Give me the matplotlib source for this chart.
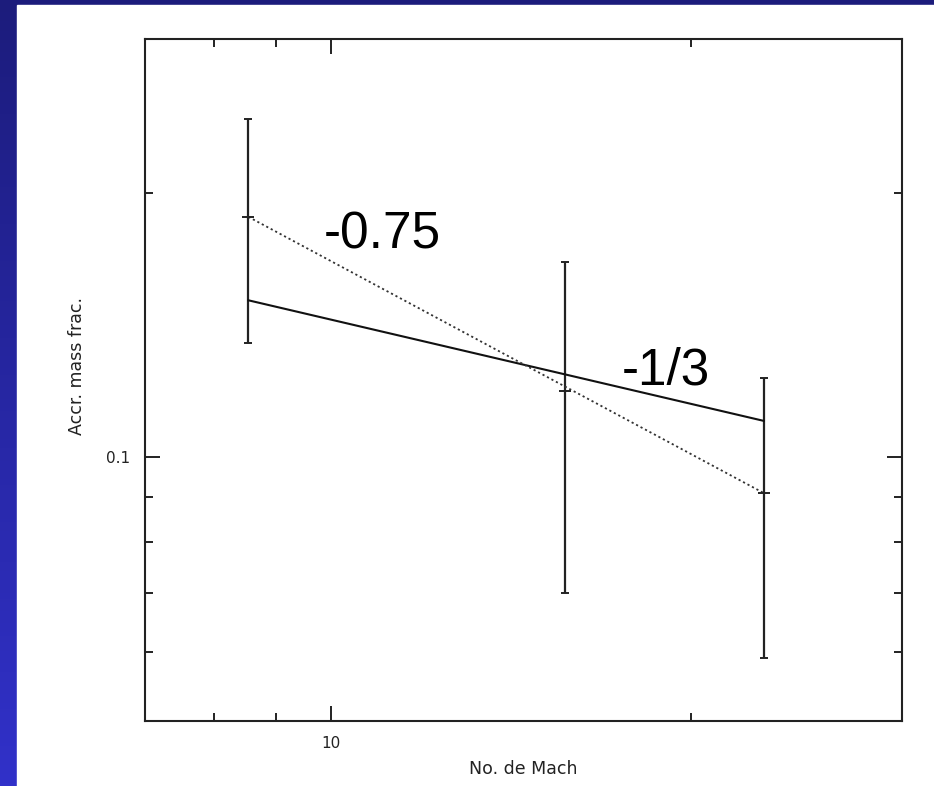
import numpy as np
import matplotlib
matplotlib.use("Agg")
import matplotlib.pyplot as plt
from matplotlib.colors import LinearSegmentedColormap
from matplotlib.patches import Rectangle
from matplotlib.ticker import NullFormatter, FixedLocator

# --- datos ---
mach = [8.54, 15.7, 23.0]
frac = [0.188, 0.119, 0.091]
frac_low = [0.135, 0.070, 0.059]
frac_high = [0.243, 0.167, 0.123]

# rectas de ajuste (extremos)
fit_x = [8.54, 23.0]
fit_075 = [0.188, 0.091]
fit_13 = [0.151, 0.110]

x_major = [10]
x_major_labels = ["10"]
x_minor = [8, 9, 20]
y_major = [0.1]
y_major_labels = ["0.1"]
y_minor = [0.06, 0.07, 0.08, 0.09, 0.2]

W, H = 934, 786
fig = plt.figure(figsize=(W / 100, H / 100), dpi=100)

# --- fondo: marco azul ---
bg = fig.add_axes([0, 0, 1, 1])
blues = LinearSegmentedColormap.from_list("marco", ["#3131c9", "#1c1c7c"])
grad = np.linspace(0, 1, 256).reshape(-1, 1)
bg.imshow(grad, cmap=blues, aspect="auto", extent=[0, 1, 0, 1], origin="lower")
bg.add_patch(Rectangle((17 / W, 0), 1, 1 - 5 / H, color="white", zorder=2))
bg.set_xlim(0, 1)
bg.set_ylim(0, 1)
bg.axis("off")

# --- grafica ---
left, right, top, bottom = 145, 902, 39, 721
ax = fig.add_axes([left / W, 1 - bottom / H, (right - left) / W, (bottom - top) / H])
ax.set_xscale("log")
ax.set_yscale("log")
ax.set_xlim(7, 30)
ax.set_ylim(0.05, 0.3)

frac_a = np.array(frac)
yerr = [frac_a - np.array(frac_low), np.array(frac_high) - frac_a]
ax.errorbar(mach, frac, yerr=yerr, fmt="_", color="#222222", ecolor="#222222",
            elinewidth=1.6, capsize=2.9, capthick=1.4, markersize=9, mew=1.4)
ax.plot(fit_x, fit_13, color="#111111", lw=1.5)
ax.plot(fit_x, fit_075, color="#333333", lw=1.3, ls=(0, (1.2, 1.6)))

ax.text(9.866, 0.1731, "-0.75", fontsize=37, family="Liberation Sans",
        ha="left", va="baseline", color="black")
ax.text(17.52, 0.1211, "-1/3", fontsize=37, family="Liberation Sans",
        ha="left", va="baseline", color="black")

ax.xaxis.set_major_locator(FixedLocator(x_major))
ax.xaxis.set_minor_locator(FixedLocator(x_minor))
ax.set_xticklabels(x_major_labels)
ax.xaxis.set_minor_formatter(NullFormatter())
ax.yaxis.set_major_locator(FixedLocator(y_major))
ax.yaxis.set_minor_locator(FixedLocator(y_minor))
ax.set_yticklabels(y_major_labels)
ax.yaxis.set_minor_formatter(NullFormatter())

ax.tick_params(which="both", direction="in", top=True, right=True,
               color="#222222", labelsize=11, labelcolor="#222222")
ax.tick_params(which="major", length=11, width=1.4, pad=11)
ax.tick_params(which="minor", length=5.5, width=1.4)
for s in ax.spines.values():
    s.set_linewidth(1.5)
    s.set_color("#222222")

ax.set_xlabel("No. de Mach", fontsize=12.5, color="#222222", labelpad=6)
ax.set_ylabel("Accr. mass frac.", fontsize=12.5, color="#222222")
ax.yaxis.set_label_coords(-0.078, 0.52)

fig.savefig("out.png", dpi=100)
